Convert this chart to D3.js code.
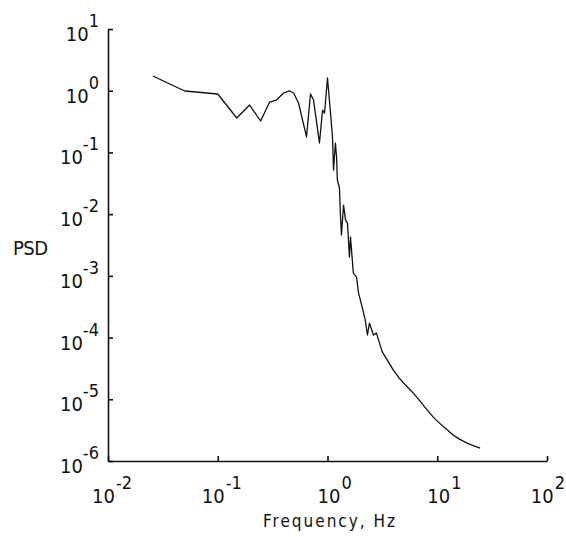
<!DOCTYPE html>
<html>
<head>
<meta charset="utf-8">
<script src="https://cdn.jsdelivr.net/npm/d3@7"></script>
<style>
  body { margin: 0; background: #fff; }
  svg { display: block; }
  text { font-family: "Liberation Sans Narrow", "DejaVu Sans Condensed", sans-serif; fill: #111; }
</style>
</head>
<body>
<span></span>
<script>
// PSD vs frequency, log-log

var freq = [0.0256, 0.0501, 0.1, 0.149, 0.195, 0.246, 0.297, 0.343, 0.398, 0.452,
            0.491, 0.545, 0.644, 0.700, 0.746, 0.845, 0.901, 0.940, 1.0, 1.065,
            1.11, 1.135, 1.18, 1.21, 1.23, 1.285, 1.31, 1.34, 1.40, 1.46,
            1.52, 1.585, 1.62, 1.72, 1.84, 1.91, 2.08, 2.21, 2.31, 2.41,
            2.62, 2.79, 3.16, 3.51, 3.98, 4.61, 6.05, 7.46, 9.2, 12.3,
            14.0, 18.7, 24.6];
var psd = [1.73, 0.99, 0.885, 0.361, 0.586, 0.323, 0.656, 0.706, 0.918, 0.99,
           0.918, 0.632, 0.178, 0.885, 0.706, 0.142, 0.486, 0.435, 1.61, 0.435,
           0.178, 0.0519, 0.142, 0.0842, 0.0357, 0.0265, 0.0104, 0.00458, 0.0140, 0.00802,
           0.00718, 0.00202, 0.00426, 0.00111, 0.000957, 0.000546, 0.000301, 0.000192, 0.000110, 0.000172,
           0.000110, 0.000118, 5.82e-5, 4.32e-5, 2.97e-5, 2.1e-5, 1.26e-5, 8.05e-6, 5.15e-6, 3.21e-6,
           2.63e-6, 1.95e-6, 1.62e-6];

var xTicks = [1e-2, 1e-1, 1e0, 1e1, 1e2];
var xExp = ["-2", "-1", "0", "1", "2"];
var yTicks = [1e1, 1e0, 1e-1, 1e-2, 1e-3, 1e-4, 1e-5, 1e-6];
var yExp = ["1", "0", "-1", "-2", "-3", "-4", "-5", "-6"];

var width = 566, height = 537;
var margin = {top: 29, right: 19, bottom: 76, left: 108};

var data = freq.map(function(f, i) {
    return {f: f, p: psd[i]};
});

const svg = d3.select("span")
    .append("svg")
    .attr("width", width)
    .attr("height", height);

// scales
const xScale = d3.scaleLog()
    .domain([1e-2, 1e2])
    .range([margin.left, width - margin.right]);
const yScale = d3.scaleLog()
    .domain([1e-6, 1e1])
    .range([height - margin.bottom, margin.top]);

// axes, ticks point inward
svg.append("g")
    .attr("transform", `translate(0, ${height - margin.bottom})`)
    .call(d3.axisBottom(xScale).tickValues(xTicks).tickFormat("").tickSizeInner(-5).tickSizeOuter(0))
    .call(g => g.selectAll("path, line").attr("stroke", "#111").attr("stroke-width", 1.6));

svg.append("g")
    .attr("transform", `translate(${margin.left}, 0)`)
    .call(d3.axisLeft(yScale).tickValues(yTicks).tickFormat("").tickSizeInner(-5).tickSizeOuter(0))
    .call(g => g.selectAll("path, line").attr("stroke", "#111").attr("stroke-width", 1.6));

// tick labels as 10 with superscript
var xl = svg.append("g")
    .selectAll("text")
    .data(xTicks)
    .join("text")
    .attr("x", (d, i) => i == xTicks.length - 1 ? width - 1 : xScale(d) - (xExp[i].length > 1 ? 16 : 10))
    .attr("text-anchor", (d, i) => i == xTicks.length - 1 ? "end" : "start")
    .attr("y", height - margin.bottom + 42)
    .style("font-size", "20px");
xl.append("tspan").text("10");
xl.append("tspan").attr("dy", -14).attr("dx", 1).style("font-size", "18px").text((d, i) => xExp[i]);

var yl = svg.append("g")
    .selectAll("text")
    .data(yTicks)
    .join("text")
    .attr("x", 99)
    .attr("y", d => yScale(d) + 12)
    .attr("text-anchor", "end")
    .style("font-size", "20px");
yl.append("tspan").text("10");
yl.append("tspan").attr("dy", -14).style("font-size", "18px").text((d, i) => yExp[i]);

// axis titles
svg.append("text")
    .attr("x", 13)
    .attr("y", 255)
    .attr("textLength", 35)
    .attr("lengthAdjust", "spacing")
    .style("font-size", "20px")
    .text("PSD");

svg.append("text")
    .attr("x", 263)
    .attr("y", 527)
    .attr("textLength", 132)
    .attr("lengthAdjust", "spacing")
    .style("font-size", "17px")
    .text("Frequency, Hz");

// the curve: jagged part drawn straight, smooth roll-off tail curved
const line = d3.line()
    .x(d => xScale(d.f))
    .y(d => yScale(d.p));
const smooth = d3.line()
    .x(d => xScale(d.f))
    .y(d => yScale(d.p))
    .curve(d3.curveMonotoneX);

var split = 44;
svg.append("path")
    .datum(data.slice(0, split + 1))
    .attr("fill", "none")
    .attr("stroke", "#111")
    .attr("stroke-width", 1.3)
    .attr("stroke-linejoin", "round")
    .attr("d", line);
svg.append("path")
    .datum(data.slice(split))
    .attr("fill", "none")
    .attr("stroke", "#111")
    .attr("stroke-width", 1.3)
    .attr("d", smooth);
</script>
</body>
</html>
